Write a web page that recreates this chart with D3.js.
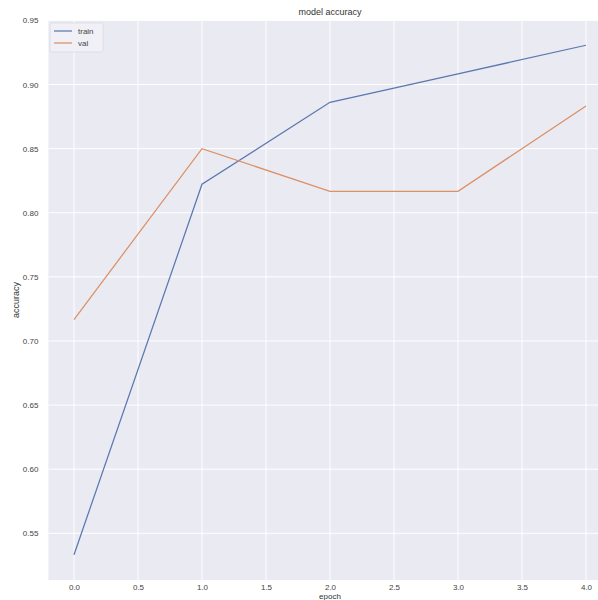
<!DOCTYPE html>
<html><head><meta charset="utf-8">
<script src="https://cdn.jsdelivr.net/npm/d3@7"></script>
<style>body{margin:0;background:#fff;} svg{display:block;font-family:"Liberation Sans",Arial,sans-serif;}</style>
</head><body>
<svg id="c" width="598" height="600"></svg>
<script>
const epochs = [0, 1, 2, 3, 4];
const trainAcc = [0.5333, 0.8222, 0.8861, 0.9083, 0.9306];
const valAcc = [0.7167, 0.8500, 0.8167, 0.8167, 0.8833];
const xTicks = [0, 0.5, 1, 1.5, 2, 2.5, 3, 3.5, 4];
const yTicks = [0.55, 0.60, 0.65, 0.70, 0.75, 0.80, 0.85, 0.90, 0.95];
const seriesNames = ["train", "val"];
const colors = ["#5A78B0", "#DC9066"];

const svg = d3.select("#c");
const L = 48.4, R = 611.6, T = 20, B = 580;
const x = d3.scaleLinear().domain([-0.2, 4.2]).range([L, R]);
const y = d3.scaleLinear().domain([0.5136, 0.9503]).range([B, T]);

svg.append("rect").attr("x", L).attr("y", T).attr("width", R - L).attr("height", B - T).attr("fill", "#EAEAF2");

const gx = svg.append("g").attr("transform", `translate(0,${B})`)
  .call(d3.axisBottom(x).tickValues(xTicks).tickFormat(d3.format(".1f")).tickSize(0).tickPadding(4));
gx.select(".domain").remove();
gx.selectAll("text").attr("font-size", 8).attr("fill", "#444").attr("font-family", "Liberation Sans, Arial, sans-serif");

const gy = svg.append("g").attr("transform", `translate(${L},0)`)
  .call(d3.axisLeft(y).tickValues(yTicks).tickFormat(d3.format(".2f")).tickSize(0).tickPadding(10));
gy.select(".domain").remove();
gy.selectAll("text").attr("font-size", 8).attr("fill", "#444").attr("font-family", "Liberation Sans, Arial, sans-serif");

svg.append("g").selectAll("line.vx").data(xTicks).join("line")
  .attr("x1", d => x(d)).attr("x2", d => x(d)).attr("y1", T).attr("y2", B)
  .attr("stroke", "#fff").attr("stroke-width", 1);
svg.append("g").selectAll("line.hy").data(yTicks).join("line")
  .attr("x1", L).attr("x2", R).attr("y1", d => y(d)).attr("y2", d => y(d))
  .attr("stroke", "#fff").attr("stroke-width", 1);

const line = d3.line().x((d, i) => x(epochs[i])).y(d => y(d));
[trainAcc, valAcc].forEach((s, k) => {
  svg.append("path").datum(s).attr("d", line).attr("fill", "none")
    .attr("stroke", colors[k]).attr("stroke-width", 1.25);
});

svg.append("text").attr("x", (L + R) / 2).attr("y", 15).attr("text-anchor", "middle")
  .attr("font-size", 9).attr("fill", "#333").text("model accuracy");
svg.append("text").attr("x", (L + R) / 2).attr("y", 599).attr("text-anchor", "middle")
  .attr("font-size", 8).attr("fill", "#333").text("epoch");
svg.append("text").attr("transform", `translate(19,${(T + B) / 2}) rotate(-90)`).attr("text-anchor", "middle")
  .attr("font-size", 9).attr("fill", "#333").text("accuracy");

const lg = svg.append("g");
lg.append("rect").attr("x", 50).attr("y", 23).attr("width", 53).attr("height", 29).attr("rx", 2)
  .attr("fill", "#F0F0F6").attr("stroke", "#DADAE2").attr("stroke-width", 0.8);
seriesNames.forEach((n, i) => {
  const yy = 31 + i * 12;
  lg.append("line").attr("x1", 54).attr("x2", 72).attr("y1", yy).attr("y2", yy)
    .attr("stroke", colors[i]).attr("stroke-width", 1.25);
  lg.append("text").attr("x", 78).attr("y", yy + 3).attr("font-size", 8).attr("fill", "#444").text(n);
});
</script>
</body></html>
